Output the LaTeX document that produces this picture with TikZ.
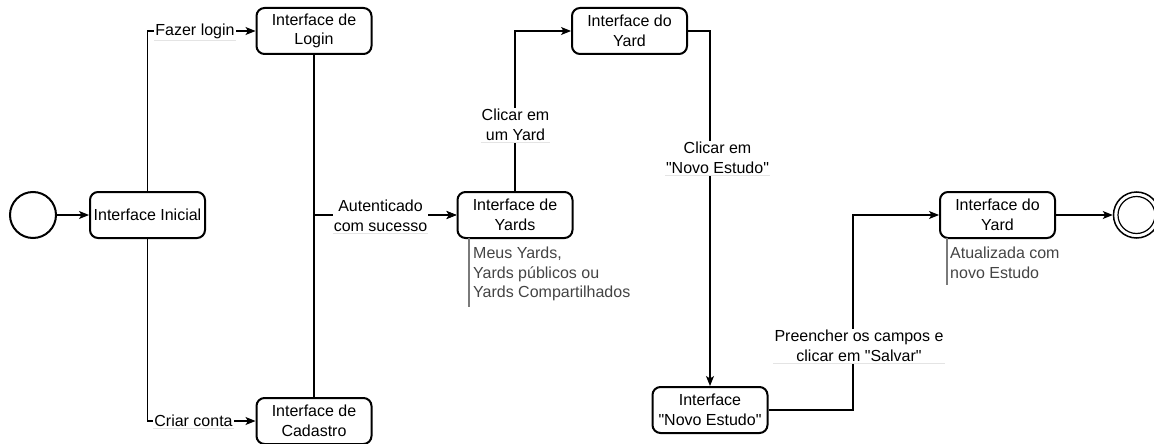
\documentclass[tikz,border=0pt]{standalone}
\usepackage{fontspec}
\setmainfont{Liberation Sans}[Ligatures=TeXOff]
\usetikzlibrary{arrows.meta}
\definecolor{notegray}{HTML}{444444}
\definecolor{notebar}{HTML}{7A7A7A}
\definecolor{rulegray}{HTML}{E4E4E4}
\begin{document}
\begin{tikzpicture}[x=1pt,y=-1pt,
  font=\fontsize{16}{19.5}\selectfont,
  state/.style={draw, rectangle, rounded corners=8pt, line width=2pt,
    minimum width=115pt, minimum height=46pt, align=center, inner sep=1pt},
  flow/.style={line width=1.1pt, -{Stealth[length=10pt,width=8pt,inset=2.5pt]}},
  edgelabel/.style={fill=white, align=center, inner xsep=1pt, inner ysep=1.5pt},
  labelrule/.style={draw=rulegray, line width=0.8pt},
  notetext/.style={text=notegray, align=left, anchor=west, inner sep=0pt},
  notebar/.style={draw=notebar, line width=1.3pt},
]
\useasboundingbox (0,0) rectangle (1154,444);

% states
\node[draw, circle, line width=2pt, minimum size=46pt, inner sep=0pt] (start) at (33,215) {};
\node[state] (inicial) at (147.5,215) {Interface Inicial};
\node[state] (login) at (314,31) {Interface de\\Login};
\node[state] (cadastro) at (314,421) {Interface de\\Cadastro};
\node[state] (yards) at (515,215) {Interface de\\Yards};
\node[state] (yard) at (629.5,31) {Interface do\\Yard};
\node[state] (novo) at (710,410) {Interface\\"Novo Estudo"};
\node[state] (yardfim) at (997.5,215) {Interface do\\Yard};
\node[draw, circle, line width=1.5pt, minimum size=46pt, inner sep=0pt] (fim) at (1136.5,215) {};
\node[draw, circle, line width=1.2pt, minimum size=37pt, inner sep=0pt] (fimin) at (fim) {};

% bend points
\coordinate (cYard) at (710,31);
\coordinate (cSalvarA) at (853,410);
\coordinate (cSalvarB) at (853,215);

% transitions
\draw[flow] (start) -- (inicial);
\draw[flow] (inicial.north) |- (login.west);
\draw[flow] (inicial.south) |- (cadastro.west);
\draw[flow] (login.south) |- (yards.west);
\draw[flow] (cadastro.north) |- (yards.west);
\draw[flow] (yards.north) |- (yard.west);
\draw[flow] (yard.east) -- (cYard) -- (novo.north);
\draw[flow] (novo.east) -- (cSalvarA) -- (cSalvarB) -- (yardfim.west);
\draw[flow] (yardfim.east) -- (fim);

% transition labels
\node[edgelabel] (lbLogin) at (195,31) {Fazer login};
\node[edgelabel] (lbConta) at (193.5,421) {Criar conta};
\node[edgelabel] (lbAuth) at (380.5,216) {Autenticado\\com sucesso};
\node[edgelabel] (lbYard) at (515.5,125) {Clicar em\\um Yard};
\node[edgelabel] (lbNovo) at (717.5,158) {Clicar em\\"Novo Estudo"};
\node[edgelabel] (lbSalvar) at (859,346) {Preencher os campos e\\clicar em "Salvar"};
\foreach \lb in {lbLogin,lbConta,lbAuth,lbYard,lbNovo,lbSalvar}
  \draw[labelrule] (\lb.south west) -- (\lb.south east);

% annotations
\coordinate (nA1) at (469,238);
\coordinate (nA2) at (469,307);
\draw[notebar] (nA1) -- (nA2);
\node[notetext] (noteYards) at (473,274) {Meus Yards,\\Yards públicos ou\\Yards Compartilhados};
\coordinate (nB1) at (947,238);
\coordinate (nB2) at (947,285);
\draw[notebar] (nB1) -- (nB2);
\node[notetext] (noteFim) at (950,263) {Atualizada com\\novo Estudo};
\end{tikzpicture}
\end{document}
